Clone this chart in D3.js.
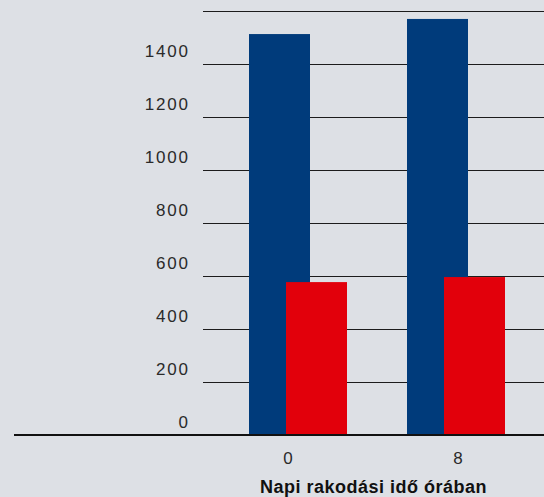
<!DOCTYPE html>
<html>
<head>
<meta charset="utf-8">
<script src="https://cdn.jsdelivr.net/npm/d3@7"></script>
<style>
  html, body { margin: 0; padding: 0; background: #dde0e5; }
  svg { display: block; }
</style>
</head>
<body>
<svg id="chart" width="544" height="497"></svg>
<script>
const categories = ["0", "8"];
const seriesNames = ["A", "B"];
const seriesA = [1513, 1570];
const seriesB = [577, 596];
const yTicks = [0, 200, 400, 600, 800, 1000, 1200, 1400, 1600];
const yTickLabels = ["0", "200", "400", "600", "800", "1000", "1200", "1400", ""];
const xTitle = "Napi rakodási idő órában";

const svg = d3.select("#chart");
const W = 544, H = 497;
const colors = { A: "#003b7b", B: "#e2000b" };
const LS = 1.8;

const y = d3.scaleLinear().domain([0, 1600]).range([435, 11]);
// axis label positions
const xLab = d3.scaleBand().domain(categories).range([203, 543]).padding(0);
// bar group positions
const xBar = d3.scaleBand().domain(categories).range([249, 565]).padding(0);
const xSeries = d3.scaleOrdinal().domain(seriesNames).range([0, 37]);
const barW = 61;

svg.append("rect").attr("width", W).attr("height", H).attr("fill", "#dde0e5");

// gridlines
svg.append("g").selectAll("line")
  .data(yTicks.filter(d => d > 0))
  .join("line")
  .attr("x1", 203).attr("x2", 544)
  .attr("y1", d => Math.round(y(d)) + 0.5)
  .attr("y2", d => Math.round(y(d)) + 0.5)
  .attr("stroke", "#1c1c1c").attr("stroke-width", 1.2);

// y tick labels
svg.append("g").selectAll("text")
  .data(yTicks.map((d, i) => ({ v: d, l: yTickLabels[i] })))
  .join("text")
  .attr("x", 188 + LS)
  .attr("y", d => y(d.v) - 7)
  .attr("text-anchor", "end")
  .attr("font-family", "Liberation Sans, Arial, sans-serif")
  .attr("font-size", 17)
  .attr("letter-spacing", LS)
  .attr("fill", "#2a2a2a")
  .text(d => d.l);

// bars
const rows = categories.map((c, i) => [
  { c, s: "A", v: seriesA[i] },
  { c, s: "B", v: seriesB[i] }
]).flat();

svg.append("g").selectAll("rect")
  .data(rows)
  .join("rect")
  .attr("x", d => xBar(d.c) + xSeries(d.s))
  .attr("y", d => y(d.v))
  .attr("width", barW)
  .attr("height", d => y(0) - y(d.v))
  .attr("fill", d => colors[d.s]);

// baseline
svg.append("line")
  .attr("x1", 14).attr("x2", 544)
  .attr("y1", y(0)).attr("y2", y(0))
  .attr("stroke", "#111").attr("stroke-width", 2);

// x labels
svg.append("g").selectAll("text")
  .data(categories)
  .join("text")
  .attr("x", d => xLab(d) + xLab.bandwidth() / 2)
  .attr("y", 464)
  .attr("text-anchor", "middle")
  .attr("font-family", "Liberation Sans, Arial, sans-serif")
  .attr("font-size", 17)
  .attr("fill", "#2a2a2a")
  .text(d => d);

// x title
svg.append("text")
  .attr("x", 373.5)
  .attr("y", 493)
  .attr("text-anchor", "middle")
  .attr("font-family", "Liberation Sans, Arial, sans-serif")
  .attr("font-size", 18)
  .attr("letter-spacing", 0.5)
  .attr("font-weight", "bold")
  .attr("fill", "#111")
  .text(xTitle);
</script>
</body>
</html>
